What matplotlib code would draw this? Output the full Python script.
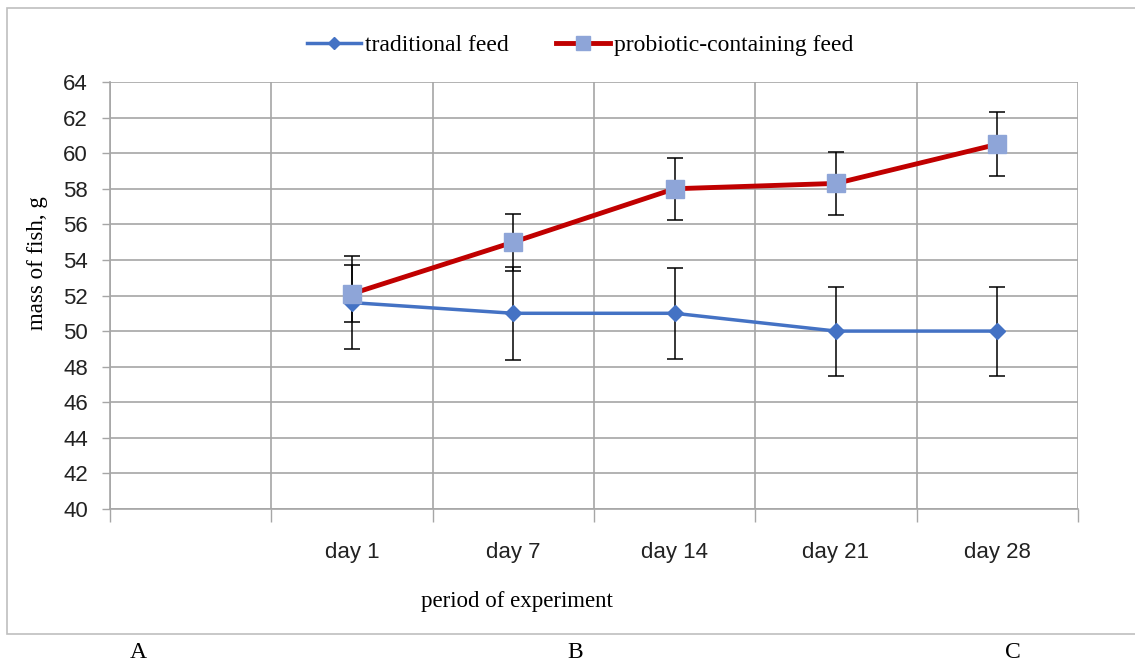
import matplotlib
matplotlib.use("Agg")
import matplotlib.pyplot as plt
from matplotlib.patches import Rectangle

# data
categories = ["", "day 1", "day 7", "day 14", "day 21", "day 28"]
traditional = [None, 51.6, 51.0, 51.0, 50.0, 50.0]
traditional_err = [None, 2.6, 2.6, 2.55, 2.5, 2.5]
probiotic = [None, 52.1, 55.0, 58.0, 58.3, 60.5]
probiotic_err = [None, 1.6, 1.6, 1.73, 1.77, 1.8]

serif = ["Liberation Serif", "DejaVu Serif"]
sans = ["Liberation Sans", "DejaVu Sans"]

W, H = 1135, 664
fig = plt.figure(figsize=(W / 100, H / 100), dpi=100)
ax = fig.add_axes([110 / W, 1 - 509 / H, (1078 - 110) / W, (509 - 82) / H])

xs = [i for i, v in enumerate(traditional) if v is not None]
t_vals = [traditional[i] for i in xs]
t_err = [traditional_err[i] for i in xs]
p_vals = [probiotic[i] for i in xs]
p_err = [probiotic_err[i] for i in xs]

ax.errorbar(xs, t_vals, yerr=t_err, fmt="none", ecolor="black", elinewidth=1.1,
            capsize=6, capthick=1.1, zorder=3)
ax.errorbar(xs, p_vals, yerr=p_err, fmt="none", ecolor="black", elinewidth=1.1,
            capsize=6, capthick=1.1, zorder=3)
ax.plot(xs, t_vals, color="#4472C4", lw=2.5, marker="D", ms=8, mfc="#4472C4",
        mec="#4472C4", label="traditional feed", zorder=4)
ax.plot(xs, p_vals, color="#C00000", lw=3.5, marker="s", ms=13, mfc="#8EA5D8",
        mec="#8EA5D8", label="probiotic-containing feed", zorder=5)

ax.set_xlim(-0.5, 5.5)
ax.set_ylim(40, 64)
ax.set_yticks(range(40, 65, 2))
ax.set_xticks(range(len(categories)))
ax.set_xticklabels(categories)
ax.set_xticks([i - 0.5 for i in range(len(categories) + 1)], minor=True)
ax.tick_params(axis="x", which="major", length=0, pad=24)
ax.tick_params(axis="x", which="minor", length=9, color="#A6A6A6", width=1)
ax.tick_params(axis="y", length=6, color="#A6A6A6", width=1, pad=10)
for lab in ax.get_xticklabels() + ax.get_yticklabels():
    lab.set_family(sans)
    lab.set_fontsize(16)
    lab.set_color("#222222")

ax.grid(True, axis="y", color="#A6A6A6", lw=1.2)
ax.grid(True, axis="x", which="minor", color="#A6A6A6", lw=1.2)
ax.set_axisbelow(True)
for side in ["top", "right"]:
    ax.spines[side].set_visible(False)
ax.spines["left"].set_color("#A6A6A6")
ax.spines["bottom"].set_color("#A6A6A6")
ax.spines["left"].set_linewidth(1.2)
ax.spines["bottom"].set_linewidth(1.2)

fig.text(38 / W, 1 - 263 / H, "mass of fish, g", family=serif, fontsize=16.5,
         rotation=90, ha="center", va="center")
fig.text(517 / W, 1 - 601 / H, "period of experiment", family=serif, fontsize=16.5,
         ha="center", va="center")

fig.legend(loc="center", bbox_to_anchor=(580 / W, 1 - 45 / H), ncol=2, frameon=False,
           prop={"family": serif, "size": 17}, handlelength=2.3, handletextpad=0.15,
           columnspacing=2.0, markerscale=0.8)

# outer chart frame
fig.patches.append(Rectangle((7 / W, 1 - 634 / H), (W - 6) / W, (634 - 8) / H,
                             transform=fig.transFigure, fill=False,
                             edgecolor="#BFBFBF", lw=1.2))

for x, s in [(138, "A"), (575, "B"), (1013, "C")]:
    fig.text(x / W, 1 - 652 / H, s, family=serif, fontsize=17, ha="center", va="center")

fig.savefig("out.png", dpi=100)
